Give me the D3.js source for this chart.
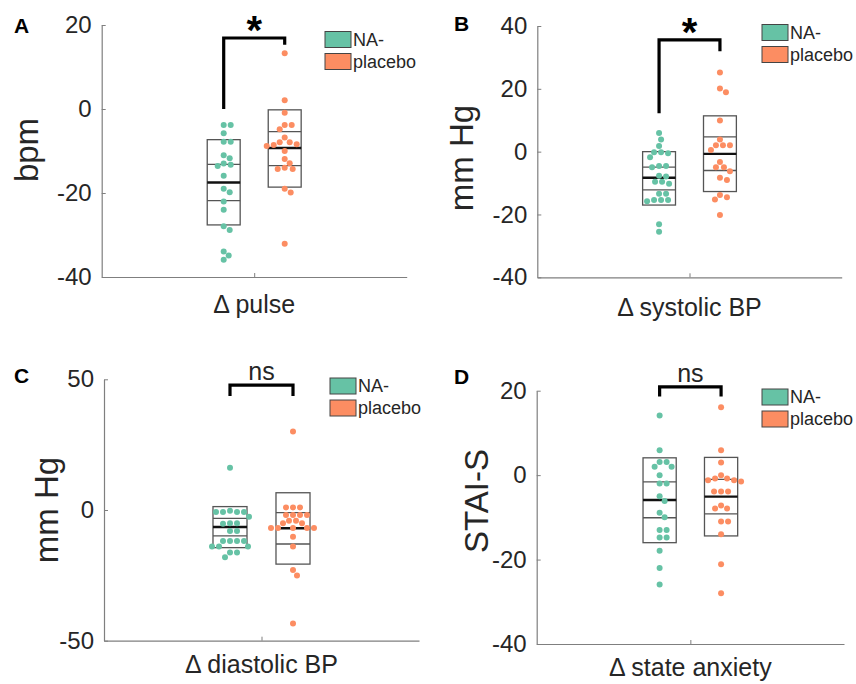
<!DOCTYPE html>
<html><head><meta charset="utf-8">
<script src="https://cdn.jsdelivr.net/npm/d3@7"></script>
<style>
html,body{margin:0;padding:0;background:#fff;}
svg{display:block;font-family:"Liberation Sans",Arial,Helvetica,sans-serif;}
</style></head>
<body><svg id="chart" width="856" height="684"></svg>
<script>
// ---------- DATA ----------
const groups = ["NA-", "placebo"];
const groupColors = ["#66c2a5", "#fc8d62"];

// Panel A: Δ pulse (bpm)
const pulseNA = [-3.8,-3.8,-5.8,-7.8,-7.8,-11,-11.7,-13.3,-13.0,-13.6,-15.9,-19,-19.8,-22,-24,-27.9,-28.8,-33.9,-34.9,-35.9];
const pulsePlacebo = [13.3,2.1,-0.9,-3.8,-3.8,-4.8,-6.8,-7.9,-7.9,-8.6,-8.4,-8.8,-10,-11.9,-12.9,-14.3,-14.3,-14.0,-19,-19.9,-32.1];
const pulseBoxNA = [-7.3,-13.2,-17.5,-21.8,-27.6];        // outerHi, innerHi, mean, innerLo, outerLo
const pulseBoxPlacebo = [-0.2,-5.4,-9.3,-13.5,-18.6];
const pulseTicks = [-40,-20,0,20];
const pulseBracket = [16.9, 0, 15.3];                      // top, left leg end, right leg end

// Panel B: Δ systolic BP (mm Hg)
const sbpNA = [5.9,3.9,1.8,-0.2,-0.2,-0.5,-1.8,-4.6,-4.6,-5.0,-7.7,-7.9,-9.6,-9.6,-10.2,-13.4,-13.4,-15.4,-15.4,-15.8,-15.4,-23.1,-25.5];
const sbpPlacebo = [25.2,20.1,18.9,9.9,3.9,2,2,2,0.5,-3.3,-5,-5,-6.2,-9,-8.3,-13.8,-14.5,-15.2,-20.2];
const sbpBoxNA = [0,-4.9,-8.3,-12.2,-17];
const sbpBoxPlacebo = [11.4,4.7,-0.7,-6,-12.7];
const sbpTicks = [-40,-20,0,20,40];
const sbpBracket = [35.6, 12.2, 32];

// Panel C: Δ diastolic BP (mm Hg)
const dbpNA = [16.2,-0.8,-0.8,-0.3,-0.8,-0.8,-2.6,-5.1,-5.1,-5.3,-8,-8,-11.9,-11.9,-11.9,-11.9,-14,-14,-14,-16.3,-16.3,-18.1];
const dbpPlacebo = [30,1,1,1,-1.9,-1.9,-1.9,-1.9,-4.1,-4.1,-5.1,-5.1,-6.9,-6.9,-6.9,-6.9,-6.9,-10.2,-14,-23,-25.1,-43.4];
const dbpBoxNA = [1.3,-3.2,-6.5,-9.9,-14.4];
const dbpBoxPlacebo = [6.6,-1,-7,-13,-20.7];
const dbpTicks = [-50,0,50];
const dbpBracket = [47.8, 43.6, 43.6];

// Panel D: Δ state anxiety (STAI-S)
const staiNA = [14.1,5.9,3.1,3.1,2,2,0,-2,-2,-5,-6.1,-8.9,-10,-13,-13,-14.8,-14.8,-17.9,-22,-25.9];
const staiPlacebo = [16.1,5.9,3,0,-0.8,-1.2,-1.5,-1.2,-0.8,-3.9,-3.9,-3.9,-7.2,-7.9,-7.9,-11,-11,-14,-21.1,-28];
const staiBoxNA = [4.1,-1.6,-5.9,-10.1,-16];
const staiBoxPlacebo = [4.2,-1,-5.1,-9.2,-14.4];
const staiTicks = [-40,-20,0,20];
const staiBracket = [20.9, 18.6, 18.6];

// ---------- LAYOUT ----------
const panels = [
  {letter:"A", lx:14, ly:33, left:101.7, right:406.7, top:25, bottom:277, domain:[-40,20], ticks:pulseTicks,
   ylabel:"bpm", ylx:38, yly:150, xlabel:"\u0394 pulse", xly:313,
   data:[pulseNA,pulsePlacebo], boxes:[pulseBoxNA,pulseBoxPlacebo], bracket:pulseBracket, sig:"*",
   legX:325, legY:31.5},
  {letter:"B", lx:454, ly:31, left:537.3, right:841.7, top:26, bottom:277.3, domain:[-40,40], ticks:sbpTicks,
   ylabel:"mm Hg", ylx:473, yly:158, xlabel:"\u0394 systolic BP", xly:316,
   data:[sbpNA,sbpPlacebo], boxes:[sbpBoxNA,sbpBoxPlacebo], bracket:sbpBracket, sig:"*",
   legX:762, legY:24.5},
  {letter:"C", lx:14, ly:383, left:104, right:419, top:379.3, bottom:640.7, domain:[-50,50], ticks:dbpTicks,
   ylabel:"mm Hg", ylx:58, yly:510, xlabel:"\u0394 diastolic BP", xly:673,
   data:[dbpNA,dbpPlacebo], boxes:[dbpBoxNA,dbpBoxPlacebo], bracket:dbpBracket, sig:"ns",
   legX:330, legY:378},
  {letter:"D", lx:454, ly:384, left:536.7, right:844, top:390.7, bottom:644, domain:[-40,20], ticks:staiTicks,
   ylabel:"STAI-S", ylx:488, yly:501, xlabel:"\u0394 state anxiety", xly:676,
   data:[staiNA,staiPlacebo], boxes:[staiBoxNA,staiBoxPlacebo], bracket:staiBracket, sig:"ns",
   legX:762, legY:389}
];

const svg = d3.select("#chart");
const axisColor = "#7f7f7f";
const textColor = "#262626";
const R = 3;

function beeswarm(values, y, cx) {
  const order = values.map((v,i)=>i).sort((a,b)=>values[b]-values[a]);
  const placed = [];
  const out = new Array(values.length);
  const minD = 6.4;
  order.forEach(i => {
    const py = y(values[i]);
    let chosen = 0;
    for (let k = 0; k < 60; k++) {
      const off = (k === 0) ? 0 : (k % 2 === 1 ? 1 : -1) * Math.ceil(k/2) * 1;
      const px = cx + off;
      const ok = placed.every(p => Math.hypot(p[0]-px, p[1]-py) >= minD);
      if (ok) { chosen = off; break; }
    }
    placed.push([cx+chosen, py]);
    out[i] = {x: cx+chosen, y: py, v: values[i]};
  });
  return out;
}

panels.forEach(P => {
  const g = svg.append("g");
  const y = d3.scaleLinear().domain(P.domain).range([P.bottom, P.top]);
  const xc = d3.scalePoint().domain(groups).range([P.left, P.right]).padding(2);
  const xl = d3.scaleLinear().domain([0,1]).range([P.left, P.right]);
  const boxW = (P.right - P.left) * 0.108;

  // y axis
  const ya = g.append("g").attr("transform", `translate(${P.left},0)`)
    .call(d3.axisLeft(y).tickValues(P.ticks).tickFormat(d => String(d))
      .tickSizeInner(-4).tickSizeOuter(0).tickPadding(10));
  ya.select(".domain").attr("stroke", axisColor).attr("stroke-width", 1.2);
  ya.selectAll(".tick line").attr("stroke", axisColor);
  ya.selectAll(".tick text").attr("fill", textColor).attr("font-size", 24)
    .attr("font-family", "Liberation Sans, Arial, sans-serif");

  // x axis
  const xa = g.append("g").attr("transform", `translate(0,${P.bottom})`)
    .call(d3.axisBottom(xl).tickValues([0.5]).tickFormat("").tickSizeInner(-4).tickSizeOuter(0));
  xa.select(".domain").attr("stroke", axisColor).attr("stroke-width", 1.2);
  xa.selectAll(".tick line").attr("stroke", axisColor);

  // boxes
  groups.forEach((gr, gi) => {
    const b = P.boxes[gi];
    const cx = xc(gr);
    g.append("rect").attr("x", cx - boxW/2).attr("y", y(b[0]))
      .attr("width", boxW).attr("height", y(b[4]) - y(b[0]))
      .attr("fill", "none").attr("stroke", "#555").attr("stroke-width", 1.3);
    [b[1], b[3]].forEach(v => {
      g.append("line").attr("x1", cx - boxW/2).attr("x2", cx + boxW/2)
        .attr("y1", y(v)).attr("y2", y(v)).attr("stroke", "#555").attr("stroke-width", 1.3);
    });
    g.append("line").attr("x1", cx - boxW/2).attr("x2", cx + boxW/2)
      .attr("y1", y(b[2])).attr("y2", y(b[2])).attr("stroke", "#111").attr("stroke-width", 2.4);
  });

  // points
  groups.forEach((gr, gi) => {
    const pts = beeswarm(P.data[gi], y, xc(gr));
    g.selectAll(null).data(pts).enter().append("circle")
      .attr("cx", d => d.x).attr("cy", d => d.y).attr("r", R)
      .attr("fill", groupColors[gi]);
  });

  // bracket
  const bx1 = xc(groups[0]), bx2 = xc(groups[1]);
  const [bt, bl, br] = P.bracket;
  g.append("path")
    .attr("d", `M${bx1},${y(bl)}V${y(bt)}H${bx2}V${y(br)}`)
    .attr("fill", "none").attr("stroke", "#000").attr("stroke-width", 3.2);
  if (P.sig === "*") {
    g.append("text").attr("x", (bx1+bx2)/2).attr("y", y(bt) + 6)
      .attr("text-anchor", "middle").attr("font-size", 40).attr("font-weight", "bold")
      .attr("fill", "#000").text("*");
  } else {
    g.append("text").attr("x", (bx1+bx2)/2).attr("y", y(bt) - 5)
      .attr("text-anchor", "middle").attr("font-size", 25)
      .attr("fill", textColor).text("ns");
  }

  // legend
  groups.forEach((gr, gi) => {
    const ly = P.legY + gi * 22;
    g.append("rect").attr("x", P.legX).attr("y", ly).attr("width", 26).attr("height", 16)
      .attr("fill", groupColors[gi]).attr("stroke", "#444").attr("stroke-width", 1);
    g.append("text").attr("x", P.legX + 28).attr("y", ly + 14)
      .attr("font-size", 18).attr("fill", textColor).text(gr);
  });

  // labels
  g.append("text").attr("transform", `translate(${P.ylx},${P.yly}) rotate(-90)`)
    .attr("text-anchor", "middle").attr("font-size", 33).attr("fill", textColor).text(P.ylabel);
  g.append("text").attr("x", (P.left + P.right)/2).attr("y", P.xly)
    .attr("text-anchor", "middle").attr("font-size", 25).attr("fill", textColor).text(P.xlabel);
  g.append("text").attr("x", P.lx).attr("y", P.ly)
    .attr("font-size", 21).attr("font-weight", "bold").attr("fill", "#000").text(P.letter);
});
</script>
</body></html>
